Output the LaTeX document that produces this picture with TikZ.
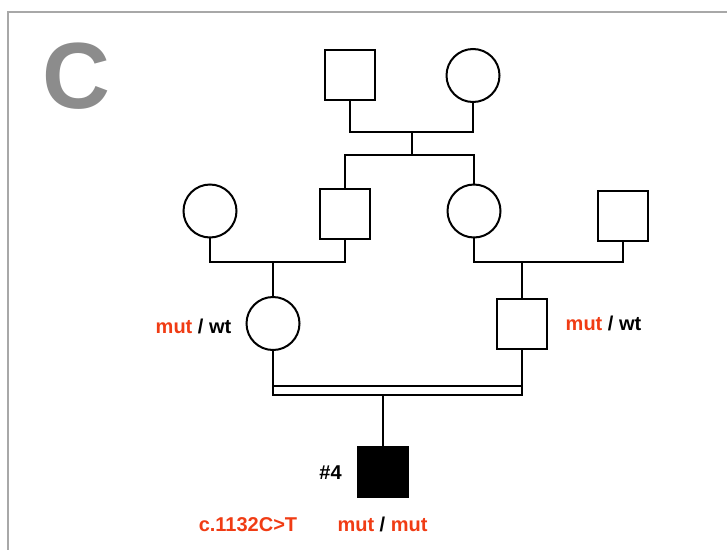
\documentclass[tikz,border=0pt]{standalone}
\usepackage{fontspec}
\setmainfont{Liberation Sans}
\definecolor{mutred}{RGB}{240,60,20}
\definecolor{panelgray}{RGB}{140,140,140}
\definecolor{framegray}{RGB}{168,168,168}
\tikzset{
  person/.style={draw=black, line width=2pt, inner sep=0pt, fill=white},
  male/.style={person, rectangle, minimum size=50pt},
  female/.style={person, circle, minimum size=53pt},
  affected/.style={male, fill=black},
  link/.style={line width=2pt, line cap=rect},
  twin/.style={line width=1.6pt},
  geno/.style={font=\fontsize{20}{24}\selectfont\bfseries, inner sep=0pt, anchor=base},
}
\begin{document}
\begin{tikzpicture}[x=1pt,y=-1pt]
\useasboundingbox (0,0) rectangle (727,549);
% panel frame and letter
\draw[framegray, line width=2.5pt] (8,560) -- (8,12) -- (740,12);
\node[font=\fontsize{94}{100}\selectfont\bfseries, text=panelgray, inner sep=0pt, anchor=base] (panel) at (76.5,108) {C};

% generation I
\node[male]   (gf) at (350,75) {};
\node[female] (gm) at (473,75.5) {};
% generation II
\node[female] (a1) at (210,211) {};
\node[male]   (a2) at (345,214) {};
\node[female] (a3) at (474,211) {};
\node[male]   (a4) at (623,215.5) {};
% generation III
\node[female] (mo) at (273,323.5) {};
\node[male]   (fa) at (522,324) {};
% proband
\node[affected] (pb) at (383,472) {};

% line junctions
\coordinate (u1) at (412,132);
\coordinate (s1) at (412,155);
\coordinate (u2) at (273,262);
\coordinate (u3) at (522,262);
\coordinate (cl) at (273,386);
\coordinate (cr) at (522,386);
\coordinate (cb) at (522,395);
\coordinate (d1) at (383,395);

% generation I mating and sibship
\draw[link] (gf.south) |- (u1) -| (gm.south);
\draw[link] (u1) -- (s1);
\draw[link] (a2.north) |- (s1) -| (a3.north);
% generation II matings
\draw[link] (a1.south) |- (u2) -| (a2.south);
\draw[link] (u2) -- (mo.north);
\draw[link] (a3.south) |- (u3) -| (a4.south);
\draw[link] (u3) -- (fa.north);
% consanguineous mating
\draw[twin] (mo.south) |- (cb) -- (fa.south);
\draw[twin] (cl) -- (cr);
\draw[link] (d1) -- (pb.north);

% labels
\node[geno] (gmo) at (193.5,333) {\textcolor{mutred}{mut} / wt};
\node[geno] (gfa) at (603.5,330) {\textcolor{mutred}{mut} / wt};
\node[geno] (id4) at (330.5,479) {\#4};
\node[geno, text=mutred] (var) at (248,531) {c.1132C>T};
\node[geno] (gpb) at (382.5,531) {\textcolor{mutred}{mut} / \textcolor{mutred}{mut}};
\end{tikzpicture}
\end{document}
